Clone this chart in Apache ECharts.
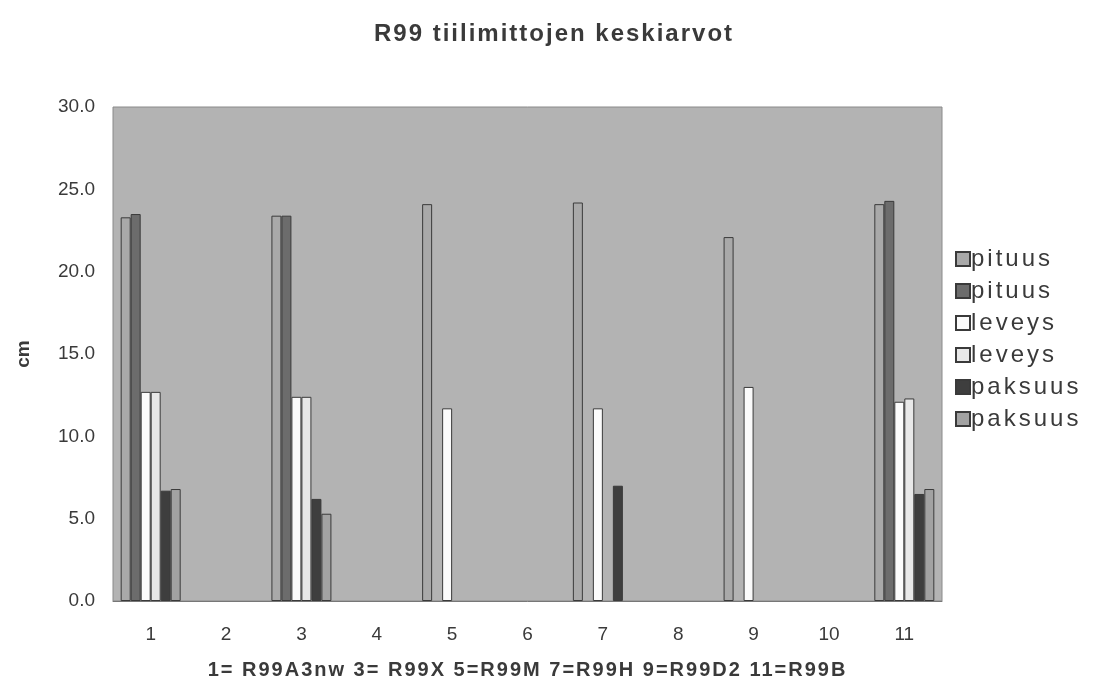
<!DOCTYPE html>
<html>
<head>
<meta charset="utf-8">
<script src="https://cdn.jsdelivr.net/npm/echarts@6/dist/echarts.min.js"></script>
<style>
    html, body { margin: 0; padding: 0; background: #fff; }
    #chart { width: 1094px; height: 690px; }
</style>
</head>
<body>
<div id="chart"></div>
<script>
    // categories 1..11, only odd ones have measurements
    const categories = ['1', '2', '3', '4', '5', '6', '7', '8', '9', '10', '11'];
    const seriesNames = ['pituus', 'pituus', 'leveys', 'leveys', 'paksuus', 'paksuus'];
    const pituus1  = [23.3, null, 23.4, null, 24.1, null, 24.2, null, 22.1, null, 24.1];
    const pituus2  = [23.5, null, 23.4, null, null, null, null, null, null, null, 24.3];
    const leveys1  = [12.7, null, 12.4, null, 11.7, null, 11.7, null, 13.0, null, 12.1];
    const leveys2  = [12.7, null, 12.4, null, null, null, null, null, null, null, 12.3];
    const paksuus1 = [6.7, null, 6.2, null, null, null, 7.0, null, null, null, 6.5];
    const paksuus2 = [6.8, null, 5.3, null, null, null, null, null, null, null, 6.8];
    const yTicks = ['0.0', '5.0', '10.0', '15.0', '20.0', '25.0', '30.0'];

    const values = [pituus1, pituus2, leveys1, leveys2, paksuus1, paksuus2];
    const colors = ['#a9a9a9', '#6c6c6c', '#fbfbfb', '#e8e8e8', '#3e3e3e', '#a2a2a2'];

    // the scanned original has widely spaced letters in title, legend and axis name
    const _fillText = CanvasRenderingContext2D.prototype.fillText;
    CanvasRenderingContext2D.prototype.fillText = function (t, x, y, w) {
        const m = /(\d+)px/.exec(this.font);
        const size = m ? +m[1] : 12;
        if (/bold/.test(this.font) && size >= 20) this.letterSpacing = '2px';
        else if (size >= 22) this.letterSpacing = '3px';
        else this.letterSpacing = '0px';
        return w === undefined ? _fillText.call(this, t, x, y) : _fillText.call(this, t, x, y, w);
    };

    const myChart = echarts.init(document.getElementById('chart'));

    const legendNames = seriesNames.map((n, i) => n + '\u200b'.repeat(i));

    myChart.setOption({
        backgroundColor: '#ffffff',
        textStyle: { fontFamily: 'Liberation Sans, Arial, sans-serif' },
        title: {
            text: 'R99 tiilimittojen keskiarvot',
            left: 549,
            textAlign: 'center',
            top: 17,
            textStyle: { fontSize: 24, fontWeight: 'bold', color: '#3a3a3a' }
        },
        legend: {
            orient: 'vertical',
            left: 950,
            top: 242,
            itemWidth: 14,
            itemHeight: 14,
            itemGap: 8,
            icon: 'rect',
            data: legendNames,
            textStyle: { fontSize: 24, color: '#3a3a3a', padding: [0, 0, 0, -4] },
            formatter: n => n.replace(/\u200b/g, '')
        },
        grid: {
            left: 113,
            right: 152,
            top: 107,
            bottom: 89,
            show: true,
            backgroundColor: '#b3b3b3',
            borderColor: '#8a8a8a',
            borderWidth: 1
        },
        xAxis: {
            type: 'category',
            data: categories,
            name: '1= R99A3nw 3= R99X 5=R99M 7=R99H 9=R99D2 11=R99B',
            nameLocation: 'middle',
            nameGap: 59,
            nameTextStyle: { fontSize: 20, fontWeight: 'bold', color: '#3a3a3a' },
            axisLine: { lineStyle: { color: '#777' } },
            axisTick: { show: false },
            axisLabel: { fontSize: 19, color: '#3a3a3a', margin: 24 }
        },
        yAxis: {
            type: 'value',
            min: 0,
            max: 30,
            interval: 5,
            name: 'cm',
            nameLocation: 'middle',
            nameGap: 80,
            nameTextStyle: { fontSize: 19, fontWeight: 'bold', color: '#3a3a3a' },
            axisLine: { show: false },
            axisTick: { show: false },
            splitLine: { show: false },
            axisLabel: {
                fontSize: 19,
                color: '#3a3a3a',
                margin: 18,
                formatter: v => yTicks[Math.round(v / 5)]
            }
        },
        series: values.map((d, i) => ({
            name: legendNames[i],
            type: 'bar',
            barWidth: 10,
            barGap: '0%',
            data: d,
            itemStyle: {
                color: colors[i],
                borderColor: '#3a3a3a',
                borderWidth: 1
            }
        }))
    });
</script>
</body>
</html>
